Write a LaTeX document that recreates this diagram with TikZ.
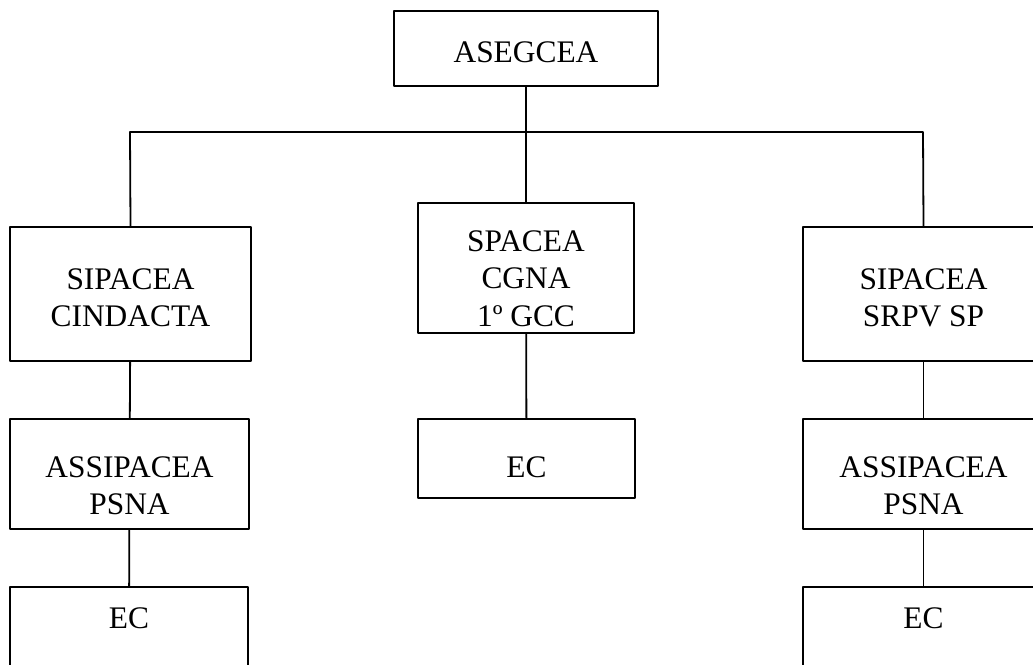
\documentclass[tikz,border=0pt]{standalone}
\usepackage{fontspec}
\setmainfont{Liberation Serif}
\tikzset{
	caixa/.style={draw, line width=1.8pt, align=center, inner sep=0pt,
		font=\fontsize{31.4}{37.5}\selectfont},
}
\begin{document}
\begin{tikzpicture}[x=1pt, y=-1pt, line join=round, line cap=round]
	\useasboundingbox (0,0) rectangle (1033,664);
	
	% Caixa do topo
	\node[caixa, minimum width=264, minimum height=75, text height=29pt] (asegcea) at (526,48.5) {ASEGCEA};
	
	% Segundo nivel
	\node[caixa, minimum width=241, minimum height=134, text height=65.5pt] (sipL) at (130.5,294) {SIPACEA\\CINDACTA};
	\node[caixa, minimum width=216, minimum height=130, text height=117pt] (spacea) at (526,268) {SPACEA\\CGNA\\1º GCC};
	\node[caixa, minimum width=241, minimum height=134, text height=65.5pt] (sipR) at (923.5,294) {SIPACEA\\SRPV SP};
	
	% Terceiro nivel
	\node[caixa, minimum width=239, minimum height=110, text height=81.5pt] (assL) at (129.5,474) {ASSIPACEA\\PSNA};
	\node[caixa, minimum width=217, minimum height=79, text height=39pt] (ecC) at (526.5,458.5) {EC};
	\node[caixa, minimum width=241, minimum height=110, text height=81.5pt] (assR) at (923.5,474) {ASSIPACEA\\PSNA};
	
	% Ultimo nivel (cortado na borda)
	\node[caixa, minimum width=238, minimum height=84, text depth=22pt] (ecL) at (129,629) {EC};
	\node[caixa, minimum width=241, minimum height=84, text depth=22pt] (ecR) at (923.5,629) {EC};
	
	% Barra horizontal
	\coordinate (barL) at (130,132);
	\coordinate (barR) at (923,132);
	
	% Ligacoes
	\begin{scope}[line width=1.8pt]
		\draw (asegcea.south) -- (spacea.north);
		\draw (sipL.north) -- (barL) -- (barR) -- (sipR.north);
		\draw (sipL) -- (assL) -- (ecL);
		\draw (spacea) -- (ecC);
		\draw (sipR) -- (assR) -- (ecR);
	\end{scope}
\end{tikzpicture}
\end{document}
